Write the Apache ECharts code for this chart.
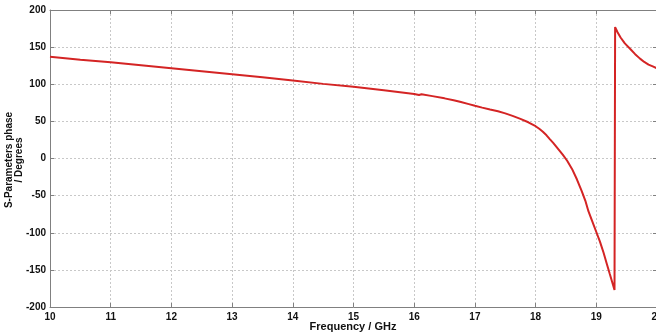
<!DOCTYPE html>
<html>
<head>
<meta charset="utf-8">
<script src="https://cdn.jsdelivr.net/npm/echarts@6/dist/echarts.min.js"></script>
<style>
  html, body { margin: 0; padding: 0; background: #fff; }
  #chart { width: 656px; height: 334px; }
</style>
</head>
<body>
<div id="chart"></div>
<script>
// frequency (GHz) and phase (degrees)
var freq = [10, 10.5, 11, 11.5, 12, 12.5, 13, 13.5, 14, 14.5, 15, 15.5, 16, 16.08, 16.1, 16.12,
            16.3, 16.5, 16.65, 16.77, 16.9, 17, 17.12, 17.25, 17.38, 17.5, 17.62, 17.75, 17.88, 18, 18.06, 18.12, 18.18,
            18.23, 18.29, 18.34, 18.4, 18.45, 18.52, 18.6, 18.68, 18.76, 18.82, 18.87, 18.94, 19, 19.06, 19.12, 19.17,
            19.22, 19.26, 19.3,
            19.31, 19.35, 19.4, 19.47, 19.56, 19.64, 19.72, 19.79, 19.86, 19.93, 20];
var phase = [137, 133, 129.5, 125.5, 121.5, 117.5, 113.5, 109.5, 105, 100.5, 96.5, 92, 87, 85.5, 83, 86.5,
             84, 81, 78.5, 76, 73.2, 71, 68.5, 66, 63.6, 60.8, 57.4, 53.4, 48.8, 43.5, 40, 36, 31.2,
             26.5, 21, 16, 10, 4.8, -3, -14, -28, -44, -57, -71, -86, -99, -112, -127, -141,
             -155, -166, -177,
             177, 170, 163, 155, 147.5, 140.5, 134.5, 130, 126.5, 124, 121.5];
var xTicks = [10, 20, 1];
var yTicks = [-200, 200, 50];
var xName = 'Frequency / GHz';
var yName = 'S-Parameters phase\n/ Degrees';

var pts = [];
for (var i = 0; i < freq.length; i++) {
    pts.push([freq[i], phase[i]]);
}

var fontFam = 'Liberation Sans, Arial';
var labelFont = { color: '#111', fontFamily: fontFam, fontWeight: 'bold', fontSize: 10 };
var gridLine = { show: true, lineStyle: { color: '#c8c8c8', type: [2, 2], width: 1 } };
var axisLine = { show: true, onZero: false, lineStyle: { color: '#808080', width: 1 } };
var tick = { show: true, inside: true, length: 4, lineStyle: { color: '#808080' } };

var chart = echarts.init(document.getElementById('chart'));
var option = {
    animation: false,
    grid: { left: 50, right: -1, top: 10, bottom: 27, show: false, containLabel: false, outerBoundsMode: 'none' },
    // axis titles as plain text (axis names get pushed out by the label overlap logic)
    graphic: [{
        type: 'text', x: 353, y: 327,
        style: { text: xName, fill: '#111', font: 'bold 11px ' + fontFam, align: 'center', verticalAlign: 'middle' }
    }, {
        type: 'text', x: 14, y: 160, rotation: Math.PI / 2,
        style: { text: yName, fill: '#111', font: 'bold 10px ' + fontFam, lineHeight: 10, align: 'center', verticalAlign: 'middle' }
    }],
    xAxis: [{
        type: 'value', min: xTicks[0], max: xTicks[1], interval: xTicks[2],
        axisLine: axisLine,
        axisTick: tick,
        axisLabel: Object.assign({ margin: 5, showMaxLabel: true, hideOverlap: false }, labelFont),
        splitLine: gridLine
    }, {
        type: 'value', position: 'top', min: xTicks[0], max: xTicks[1], interval: xTicks[2],
        axisLine: axisLine,
        axisTick: tick,
        axisLabel: { show: false },
        splitLine: { show: false }
    }],
    yAxis: [{
        type: 'value', min: yTicks[0], max: yTicks[1], interval: yTicks[2],
        axisLine: axisLine,
        axisTick: tick,
        axisLabel: Object.assign({ margin: 4 }, labelFont),
        splitLine: gridLine
    }, {
        type: 'value', position: 'right', min: yTicks[0], max: yTicks[1], interval: yTicks[2],
        axisLine: axisLine,
        axisTick: tick,
        axisLabel: { show: false },
        splitLine: { show: false }
    }],
    series: [{
        type: 'line',
        data: pts,
        showSymbol: false,
        lineStyle: { color: '#d42424', width: 2 }
    }]
};
chart.setOption(option);
</script>
</body>
</html>
